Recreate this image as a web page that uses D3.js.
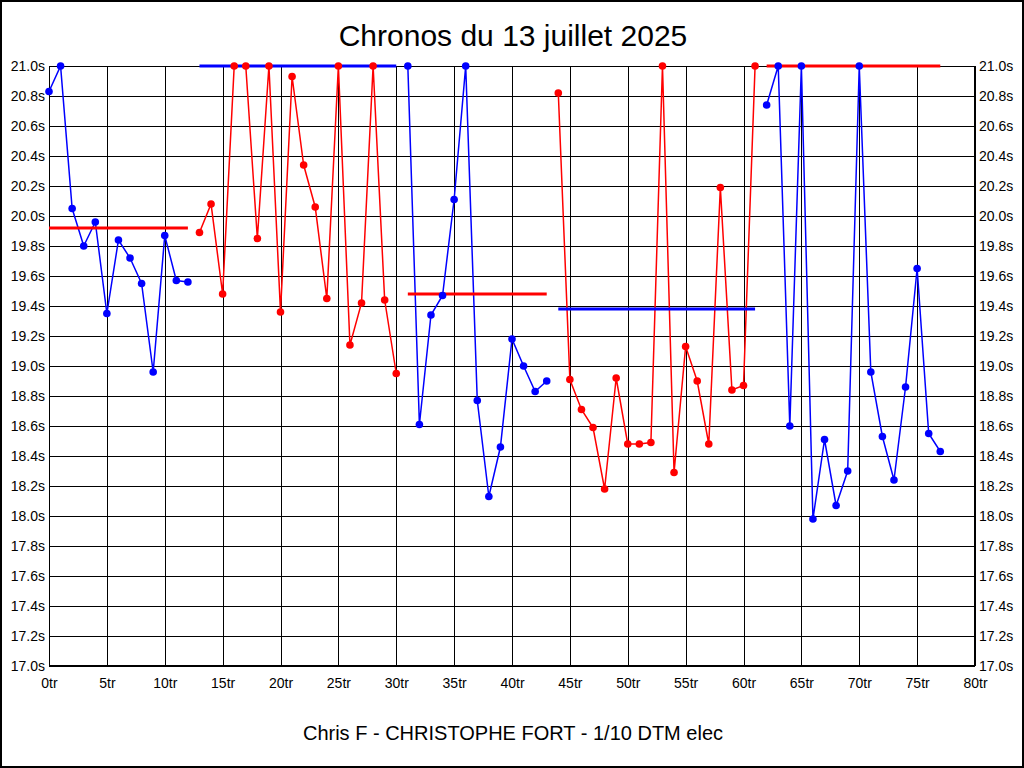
<!DOCTYPE html>
<html>
<head>
<meta charset="utf-8">
<script src="https://cdn.jsdelivr.net/npm/d3@7"></script>
<style>
  html, body { margin: 0; padding: 0; background: #fff; }
  svg text { font-family: "Liberation Sans", Arial, sans-serif; fill: #000; }
</style>
</head>
<body>
<svg id="chart" width="1024" height="768"></svg>
<script>
// ---- data ----
const title = "Chronos du 13 juillet 2025";
const caption = "Chris F - CHRISTOPHE FORT - 1/10 DTM elec";

const seg1Laps = [0,1,2,3,4,5,6,7,8,9,10,11,12];
const seg1Times = [20.83,21.0,20.05,19.80,19.96,19.35,19.84,19.72,19.55,18.96,19.87,19.57,19.56];
const seg2Laps = [13,14,15,16,17,18,19,20,21,22,23,24,25,26,27,28,29,30];
const seg2Times = [19.89,20.08,19.48,21.0,21.0,19.85,21.0,19.36,20.93,20.34,20.06,19.45,21.0,19.14,19.42,21.0,19.44,18.95];
const seg3Laps = [31,32,33,34,35,36,37,38,39,40,41,42,43];
const seg3Times = [21.0,18.61,19.34,19.47,20.11,21.0,18.77,18.13,18.46,19.18,19.00,18.83,18.90];
const seg4Laps = [44,45,46,47,48,49,50,51,52,53,54,55,56,57,58,59,60,61];
const seg4Times = [20.82,18.91,18.71,18.59,18.18,18.92,18.48,18.48,18.49,21.0,18.29,19.13,18.90,18.48,20.19,18.84,18.87,21.0];
const seg5Laps = [62,63,64,65,66,67,68,69,70,71,72,73,74,75,76,77];
const seg5Times = [20.74,21.0,18.60,21.0,17.98,18.51,18.07,18.30,21.0,18.96,18.53,18.24,18.86,19.65,18.55,18.43];

const segColors = ["#0000ff","#ff0000","#0000ff","#ff0000","#0000ff"];
// averages per segment (drawn in the opposite colour)
const avgValues = [19.92, 21.0, 19.48, 19.38, 21.0];
const avgColors = ["#ff0000","#0000ff","#ff0000","#0000ff","#ff0000"];

const yTicks = [17.0,17.2,17.4,17.6,17.8,18.0,18.2,18.4,18.6,18.8,19.0,19.2,19.4,19.6,19.8,20.0,20.2,20.4,20.6,20.8,21.0];
const xTicks = [0,5,10,15,20,25,30,35,40,45,50,55,60,65,70,75,80];

// ---- layout ----
const svg = d3.select("#chart");
const W = 1024, H = 768;
const pLeft = 49, pRight = 975, pTop = 66, pBottom = 666;

const x = d3.scaleLinear().domain([0, 80]).range([pLeft, pRight]);
const y = d3.scaleLinear().domain([17, 21]).range([pBottom, pTop]);

svg.append("rect").attr("x", 0).attr("y", 0).attr("width", W).attr("height", H).attr("fill", "#fff");
svg.append("rect").attr("x", 1).attr("y", 1).attr("width", W - 2).attr("height", H - 2)
  .attr("fill", "none").attr("stroke", "#000").attr("stroke-width", 2);

// grid + axes
const gLeft = svg.append("g").attr("transform", `translate(${pLeft},0)`)
  .call(d3.axisLeft(y).tickValues(yTicks).tickSize(-(pRight - pLeft)).tickPadding(4)
    .tickFormat(d => d3.format(".1f")(d) + "s"));
const gRight = svg.append("g").attr("transform", `translate(${pRight},0)`)
  .call(d3.axisRight(y).tickValues(yTicks).tickSize(0).tickPadding(4)
    .tickFormat(d => d3.format(".1f")(d) + "s"));
const gBottom = svg.append("g").attr("transform", `translate(0,${pBottom})`)
  .call(d3.axisBottom(x).tickValues(xTicks).tickSize(-(pBottom - pTop)).tickPadding(14)
    .tickFormat(d => d + "tr"));

[gLeft, gRight, gBottom].forEach(g => {
  g.select(".domain").remove();
  g.selectAll(".tick line").attr("stroke", "#000").attr("stroke-width", 1).attr("shape-rendering", "crispEdges");
  g.selectAll(".tick text").attr("font-size", 14).attr("fill", "#000")
    .style("font-family", "'Liberation Sans', Arial, sans-serif");
});
gBottom.selectAll(".tick text").attr("dy", "0.55em");

// plot frame
svg.append("rect").attr("x", pLeft + 0.5).attr("y", pTop + 0.5)
  .attr("width", pRight - pLeft - 1).attr("height", pBottom - pTop - 1)
  .attr("fill", "none").attr("stroke", "#000").attr("stroke-width", 1).attr("shape-rendering", "crispEdges");

// data
const segments = [
  [seg1Laps, seg1Times], [seg2Laps, seg2Times], [seg3Laps, seg3Times],
  [seg4Laps, seg4Times], [seg5Laps, seg5Times]
];

const line = d3.line().x(d => x(d[0])).y(d => y(d[1]));

segments.forEach(([laps, times], i) => {
  const pts = laps.map((l, k) => [l, Math.min(21, times[k])]);
  svg.append("path").datum(pts).attr("d", line)
    .attr("fill", "none").attr("stroke", segColors[i]).attr("stroke-width", 1.5);
});

// average lines
segments.forEach(([laps], i) => {
  svg.append("line")
    .attr("x1", x(laps[0])).attr("x2", x(laps[laps.length - 1]))
    .attr("y1", y(avgValues[i])).attr("y2", y(avgValues[i]))
    .attr("stroke", avgColors[i]).attr("stroke-width", 3);
});

// dots
segments.forEach(([laps, times], i) => {
  svg.append("g").selectAll("circle").data(laps.map((l, k) => [l, Math.min(21, times[k])]))
    .join("circle")
    .attr("cx", d => x(d[0])).attr("cy", d => y(d[1])).attr("r", 3.8)
    .attr("fill", segColors[i]);
});

// titles
svg.append("text").attr("x", 513).attr("y", 46).attr("text-anchor", "middle")
  .attr("font-size", 30).text(title);
svg.append("text").attr("x", 513).attr("y", 740).attr("text-anchor", "middle")
  .attr("font-size", 20).text(caption);
</script>
</body>
</html>
